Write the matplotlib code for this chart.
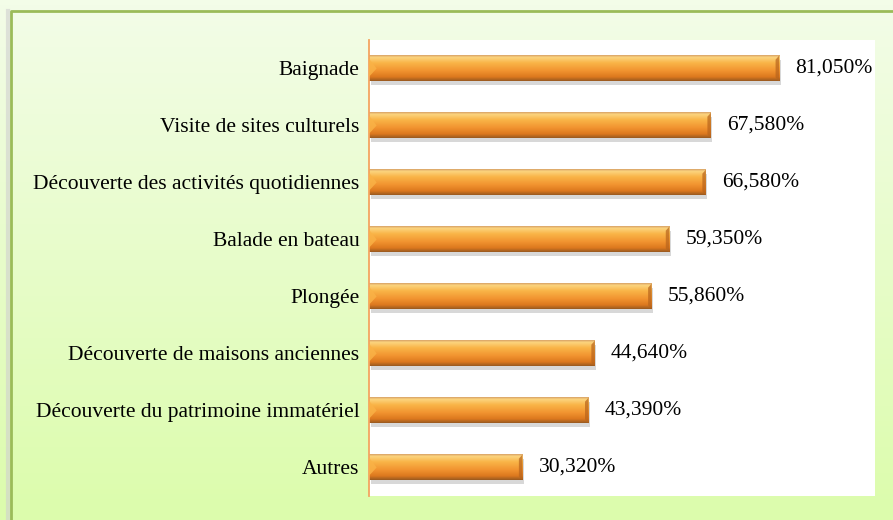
import numpy as np
import matplotlib
matplotlib.use("Agg")
import matplotlib.pyplot as plt
from matplotlib.colors import LinearSegmentedColormap
from matplotlib.patches import Rectangle

categories = [
    "Baignade",
    "Visite de sites culturels",
    "Découverte des activités quotidiennes",
    "Balade en bateau",
    "Plongée",
    "Découverte de maisons anciennes",
    "Découverte du patrimoine immatériel",
    "Autres",
]
values = [81.05, 67.58, 66.58, 59.35, 55.86, 44.64, 43.39, 30.32]
labels = ["81,050%", "67,580%", "66,580%", "59,350%", "55,860%", "44,640%", "43,390%", "30,320%"]

plt.rcParams['font.family'] = ['Liberation Serif', 'DejaVu Serif']

fig = plt.figure(figsize=(8.93, 5.2), dpi=100)

# background: light green gradient with a green frame
bg = fig.add_axes([0, 0, 1, 1], zorder=-2)
bg_cmap = LinearSegmentedColormap.from_list("bg", ["#f3fde8", "#dcfcac"])
bg.imshow(np.linspace(0, 1, 100).reshape(-1, 1), cmap=bg_cmap, aspect='auto',
          extent=[0, 1, 0, 1], origin='upper')
bg.set_xlim(0, 1)
bg.set_ylim(0, 1)
bg.axis('off')
x0, y0 = 11 / 893, 1 - 11 / 520
bg.plot([x0 - 0.003, x0 - 0.003], [0, y0], color='#d0d0d0', lw=3, alpha=0.6)
bg.plot([x0, x0, 1.01], [0, y0, y0], color='#9bbb59', lw=2)

ax = fig.add_axes([369 / 893, 24 / 520, (875 - 369) / 893, (480 - 24) / 520])
ax.set_facecolor('white')

bar_cmap = LinearSegmentedColormap.from_list(
    "bar", [(0.0, "#d9a468"), (0.08, "#fcd47e"), (0.3, "#f9b447"),
            (0.6, "#f29430"), (0.85, "#dc781e"), (1.0, "#9a5a20")])
grad = np.linspace(0, 1, 64).reshape(-1, 1)

n = len(categories)
ypos = np.arange(n)[::-1]
h = 0.45
for y, v, lab in zip(ypos, values, labels):
    ax.add_patch(Rectangle((0.3, y - h / 2 - 0.07), v, h, color='#808080', alpha=0.3,
                           lw=0, zorder=1))
    ax.imshow(grad, cmap=bar_cmap, aspect='auto', origin='upper',
              extent=[0, v, y - h / 2, y + h / 2], zorder=2)
    # bevel at the ends
    ax.fill([0, 1.5, 0], [y + h / 2 - 0.05, y, y - h / 2 + 0.08], color='#fab347',
            alpha=0.8, lw=0, zorder=3)
    ax.fill([v, v - 0.7, v - 0.7, v], [y + h / 2, y + h / 2 - 0.07, y - h / 2 + 0.07, y - h / 2],
            color='#b8641c', alpha=0.7, lw=0, zorder=3)
    ax.text(v + 3.2, y, lab, va='center', ha='left', fontsize=15.5, color='black')

ax.set_xlim(0, 100)
ax.set_ylim(-0.5, n - 0.5)
ax.set_yticks(ypos)
ax.set_yticklabels(categories, fontsize=15.5)
ax.set_xticks([])
ax.tick_params(axis='y', length=0, pad=7)
for s in ['top', 'right', 'bottom']:
    ax.spines[s].set_visible(False)
ax.spines['left'].set_color('#f4a460')
ax.spines['left'].set_linewidth(1.3)

fig.savefig("out.png", dpi=100)
